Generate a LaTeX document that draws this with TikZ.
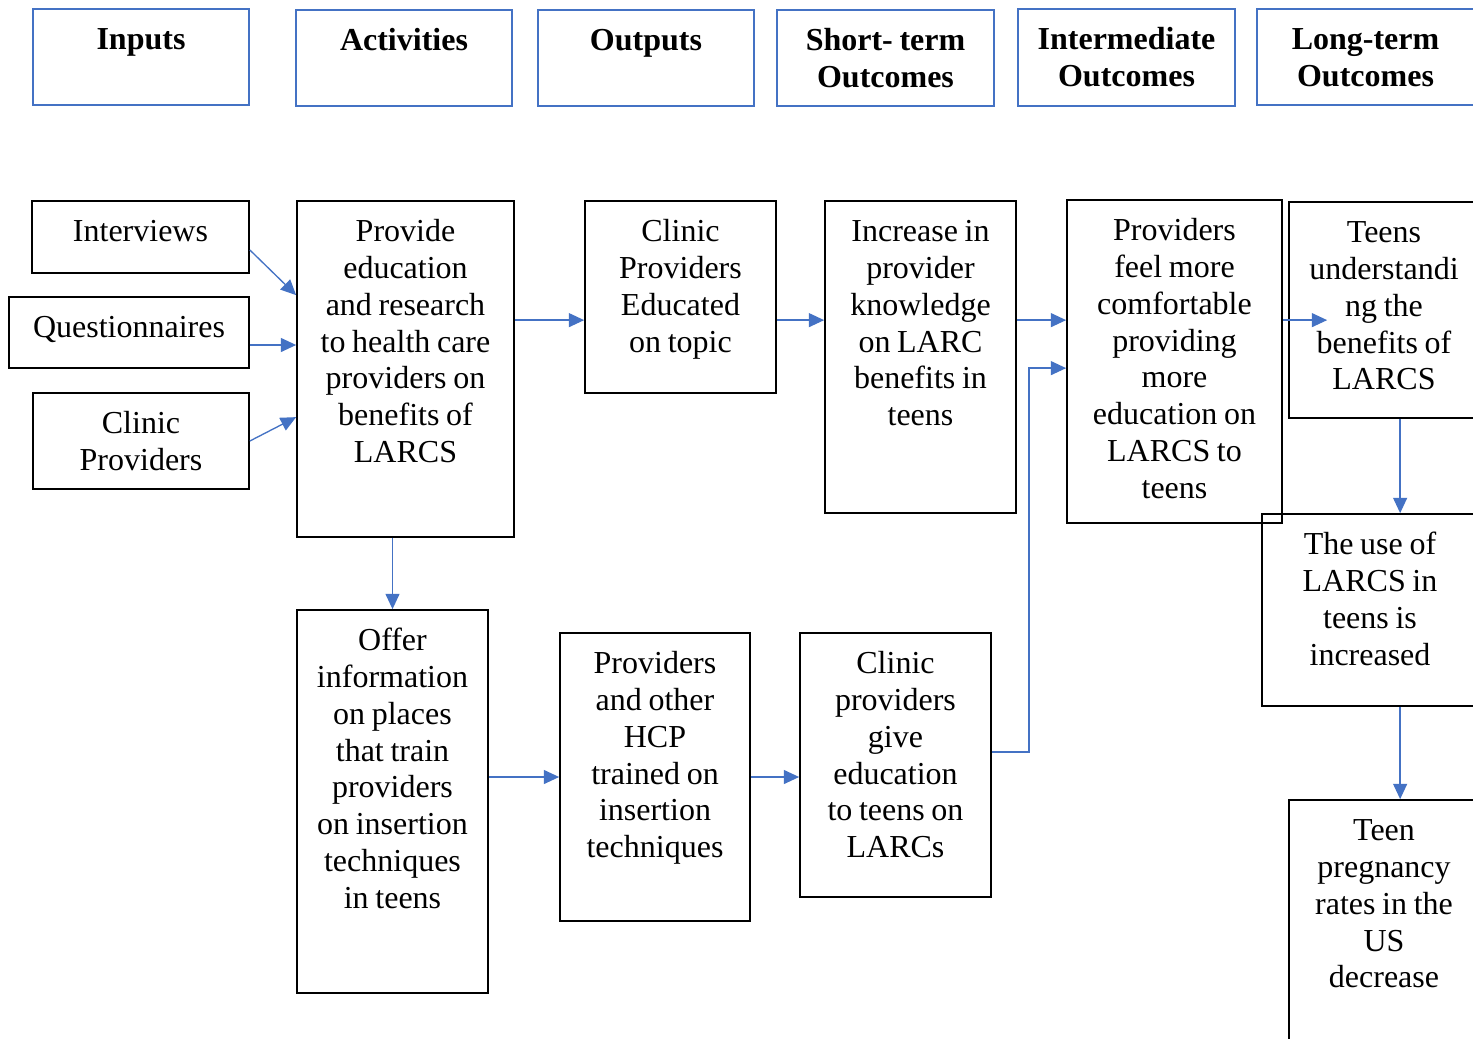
\documentclass[tikz,border=0pt]{standalone}
\usepackage{fontspec}
\setmainfont{Liberation Serif}
\usetikzlibrary{arrows.meta,calc,fit}
\definecolor{hblue}{HTML}{4472C4}
\begin{document}
\begin{tikzpicture}[x=0.75pt,y=-0.75pt,
  box/.style={draw=black,line width=1.3pt,inner sep=0pt},
  hbox/.style={draw=hblue,line width=1.4pt,inner sep=0pt},
  txt/.style={anchor=north,inner sep=0pt,text width=240pt,align=center,
    font=\fontsize{24}{27.7}\selectfont,execute at begin node={\spaceskip=5pt\relax\strut}},
  htxt/.style={txt,font=\fontsize{24}{27.7}\selectfont\bfseries},
  arr/.style={draw=hblue,line width=1pt,-{Triangle[length=11.5pt,width=10.5pt]}}]
\useasboundingbox (0,0) rectangle (1473,1038);
\clip (0,0) rectangle (1473,1038);
\fill[white] (0,0) rectangle (1473,1038);

% headers
\node[hbox,fit={(33,9)(249,105)}] (h1) {};
\node[hbox,fit={(296,10)(512,106)}] (h2) {};
\node[hbox,fit={(538,10)(754,106)}] (h3) {};
\node[hbox,fit={(777,10)(994,106)}] (h4) {};
\node[hbox,fit={(1018,9)(1235,106)}] (h5) {};
\node[hbox,fit={(1257,9)(1474,105)}] (h6) {};
\node[htxt] (h1t) at ($(h1.north)+(0,15)$) {Inputs};
\node[htxt] (h2t) at ($(h2.north)+(0,15)$) {Activities};
\node[htxt] (h3t) at ($(h3.north)+(0,15)$) {Outputs};
\node[htxt] (h4t) at ($(h4.north)+(0,15)$) {Short- term\\Outcomes};
\node[htxt] (h5t) at ($(h5.north)+(0,15)$) {Intermediate\\Outcomes};
\node[htxt] (h6t) at ($(h6.north)+(0,15)$) {Long-term\\Outcomes};

% boxes
\node[box,fit={(32,201)(249,273)}] (iv) {};
\node[box,fit={(9,297)(249,368)}] (qn) {};
\node[box,fit={(33,393)(249,489)}] (cp) {};
\node[box,fit={(297,201)(514,537)}] (pe) {};
\node[box,fit={(585,201)(776,393)}] (ce) {};
\node[box,fit={(825,201)(1016,513)}] (inc) {};
\node[box,fit={(1067,200)(1282,523)}] (pf) {};
\node[box,fit={(1289,202)(1479,418)}] (tu) {};
\node[box,fit={(1262,514)(1478,706)}] (ul) {};
\node[box,fit={(1289,800)(1479,1060)}] (tp) {};
\node[box,fit={(297,610)(488,993)}] (of) {};
\node[box,fit={(560,633)(750,921)}] (hcp) {};
\node[box,fit={(800,633)(991,897)}] (cg) {};

\node[txt] (ivt) at ($(iv.north)+(0,15)$) {Interviews};
\node[txt] (qnt) at ($(qn.north)+(0,15)$) {Questionnaires};
\node[txt] (cpt) at ($(cp.north)+(0,15)$) {Clinic\\Providers};
\node[txt] (pet) at ($(pe.north)+(0,15)$) {Provide\\education\\and research\\to health care\\providers on\\benefits of\\LARCS};
\node[txt] (cet) at ($(ce.north)+(0,15)$) {Clinic\\Providers\\Educated\\on topic};
\node[txt] (inct) at ($(inc.north)+(0,15)$) {Increase in\\provider\\knowledge\\on LARC\\benefits in\\teens};
\node[txt] (pft) at ($(pf.north)+(0,15)$) {Providers\\feel more\\comfortable\\providing\\more\\education on\\LARCS to\\teens};
\node[txt] (tut) at ($(tu.north)+(0,15)$) {Teens\\understandi\\ng the\\benefits of\\LARCS};
\node[txt] (ult) at ($(ul.north)+(0,15)$) {The use of\\LARCS in\\teens is\\increased};
\node[txt] (tpt) at ($(tp.north)+(0,15)$) {Teen\\pregnancy\\rates in the\\US\\decrease};
\node[txt] (oft) at ($(of.north)+(0,15)$) {Offer\\information\\on places\\that train\\providers\\on insertion\\techniques\\in teens};
\node[txt] (hcpt) at ($(hcp.north)+(0,15)$) {Providers\\and other\\HCP\\trained on\\insertion\\techniques};
\node[txt] (cgt) at ($(cg.north)+(0,15)$) {Clinic\\providers\\give\\education\\to teens on\\LARCs};

% connectors
\draw[arr] ($(iv.east)+(0,13)$) -- ($(pe.north west)+(0,95)$);
\coordinate (qs) at ($(qn.east)+(0,12.5)$);
\draw[arr] (qs) -- (qs -| pe.west);
\draw[arr] (cp.east) -- ($(pe.north west)+(0,217)$);
\coordinate (a1) at ($(pe.north east)+(0,120)$);
\draw[arr] (a1) -- (a1 -| ce.west);
\coordinate (a2) at ($(ce.north east)+(0,120)$);
\draw[arr] (a2) -- (a2 -| inc.west);
\coordinate (a3) at ($(inc.north east)+(0,120)$);
\draw[arr] (a3) -- (a3 -| pf.west);
\coordinate (b1) at ($(cg.east)+(0,-13)$);
\coordinate (b2) at ($(pf.north west)+(0,169)$);
\draw[arr] (b1) -- ++(37,0) |- (b2);
\coordinate (a4) at ($(pf.north east)+(0,121)$);
\coordinate (a4e) at ($(a4 -| tu.west)+(39,0)$);
\draw[arr] (a4) -- (a4e);
\coordinate (c1) at ($(tu.south west)+(112,0)$);
\draw[arr] (c1) -- (c1 |- ul.north);
\coordinate (c2) at ($(ul.south west)+(139,0)$);
\draw[arr] (c2) -- (c2 |- tp.north);
\draw[arr] (of.north |- pe.south) -- (of.north);
\draw[arr] (hcp.west -| of.east) -- (hcp.west);
\draw[arr] (hcp.east) -- (hcp.east -| cg.west);
\end{tikzpicture}
\end{document}
